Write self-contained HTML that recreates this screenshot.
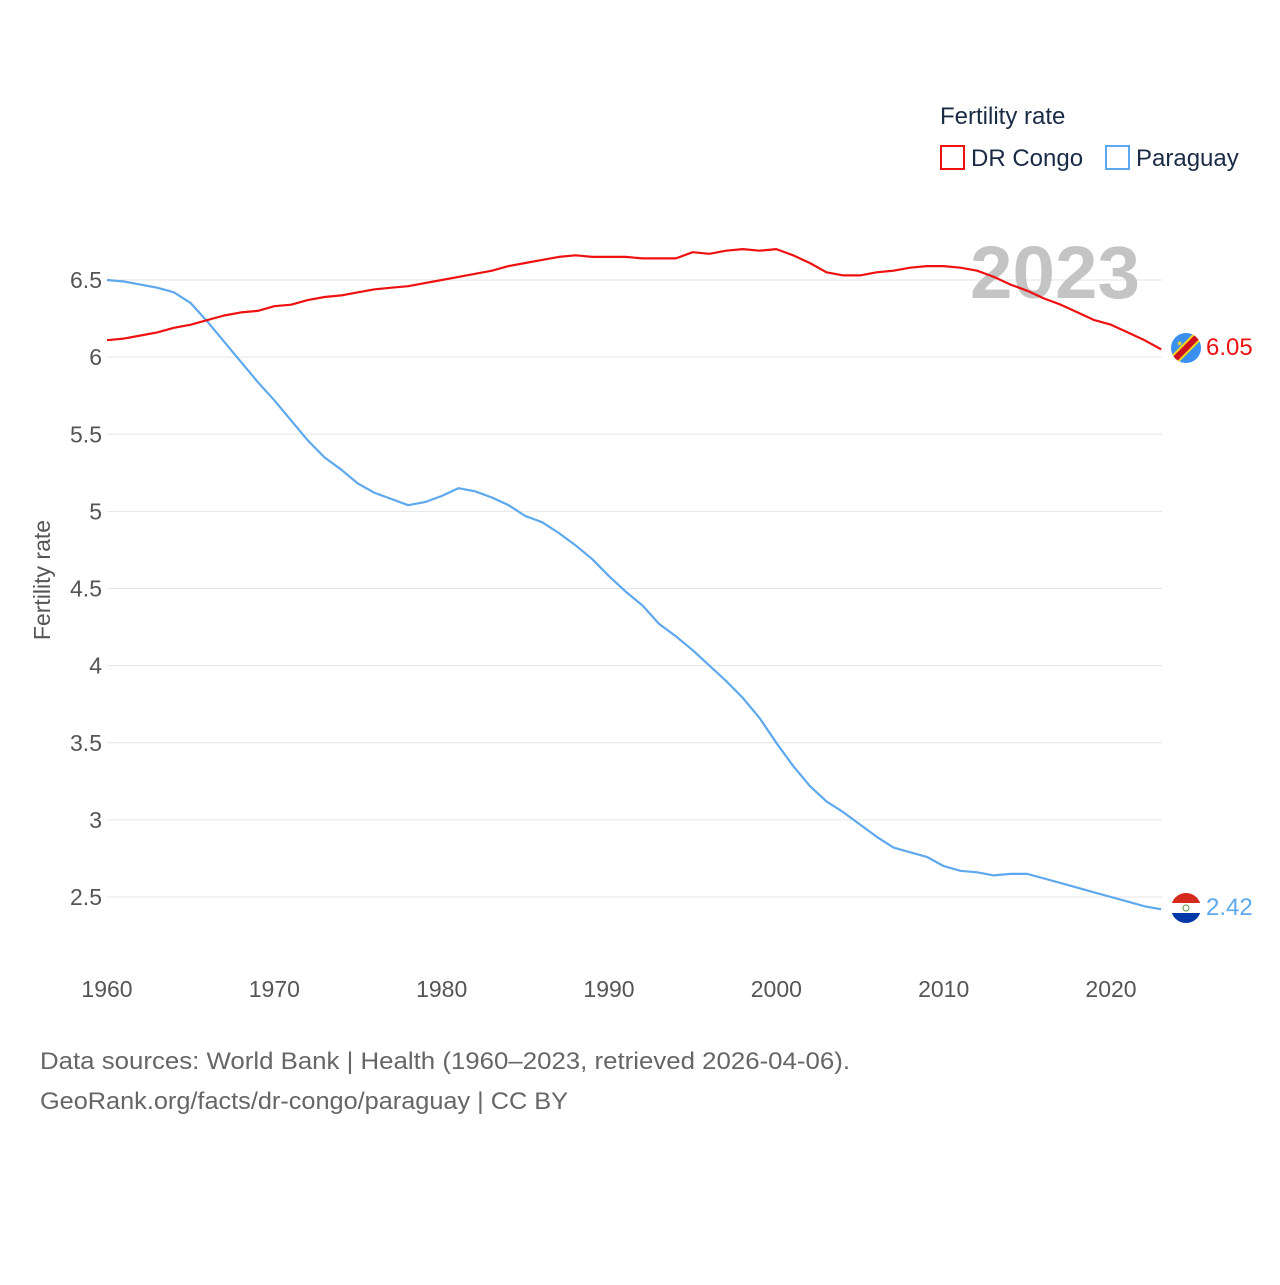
<!DOCTYPE html>
<html><head><meta charset="utf-8">
<style>
html,body{margin:0;padding:0;background:#fff;}
body{width:1280px;height:1280px;overflow:hidden;font-family:"Liberation Sans",sans-serif;}
text{font-family:"Liberation Sans",sans-serif;}
</style></head>
<body>
<svg id="chart" width="1280" height="1280" xmlns="http://www.w3.org/2000/svg">
  <g id="grid"></g>
  <g id="yticks"></g>
  <g id="xticks"></g>
  <text x="970" y="298" textLength="170" lengthAdjust="spacingAndGlyphs" font-size="74" font-weight="bold" fill="#c4c4c4">2023</text>
  <text transform="translate(50,580) rotate(-90)" text-anchor="middle" font-size="23" fill="#555">Fertility rate</text>
  <g id="lines"></g>
  <g>
    <text x="940" y="124" font-size="24" fill="#1a2b45">Fertility rate</text>
    <g>
      <rect x="941" y="146" width="23" height="23" fill="none" stroke="#ee1111" stroke-width="2"/>
      <text x="971" y="166" font-size="24" fill="#1a2b45">DR Congo</text>
    </g>
    <g>
      <rect x="1106" y="146" width="23" height="23" fill="none" stroke="#5ea8ee" stroke-width="2"/>
      <text x="1136" y="166" font-size="24" fill="#1a2b45">Paraguay</text>
    </g>
  </g>
  <g>
    <clipPath id="c1"><circle cx="1186" cy="348" r="15"/></clipPath>
    <g clip-path="url(#c1)">
      <rect x="1170" y="332" width="32" height="32" fill="#3a8ff0"/>
      <line x1="1168" y1="366" x2="1204" y2="330" stroke="#f7d618" stroke-width="10"/>
      <line x1="1168" y1="366" x2="1204" y2="330" stroke="#ce1021" stroke-width="6"/>
    </g>
    <text x="1176" y="346" font-size="8" fill="#f7d618">★</text>
  </g>
  <g>
    <clipPath id="c2"><circle cx="1186" cy="908" r="15"/></clipPath>
    <g clip-path="url(#c2)">
      <rect x="1170" y="892" width="32" height="11" fill="#d52b1e"/>
      <rect x="1170" y="903" width="32" height="10" fill="#fff"/>
      <rect x="1170" y="913" width="32" height="11" fill="#0038a8"/>
      <circle cx="1186" cy="908" r="3" fill="none" stroke="#5a9a3a" stroke-width="1"/>
    </g>
  </g>
  <text x="1206" y="355" font-size="24" fill="#ee1111">6.05</text>
  <text x="1206" y="915" font-size="24" fill="#5ea8ee">2.42</text>
  <text x="40" y="1069" textLength="810" lengthAdjust="spacingAndGlyphs" font-size="24" fill="#666">Data sources: World Bank | Health (1960–2023, retrieved 2026-04-06).</text>
  <text x="40" y="1109" textLength="528" lengthAdjust="spacingAndGlyphs" font-size="24" fill="#666">GeoRank.org/facts/dr-congo/paraguay | CC BY</text>
</svg>
<script>
const startYear = 1960;
const congo = [6.11,6.12,6.14,6.16,6.19,6.21,6.24,6.27,6.29,6.30,6.33,6.34,6.37,6.39,6.40,6.42,6.44,6.45,6.46,6.48,6.50,6.52,6.54,6.56,6.59,6.61,6.63,6.65,6.66,6.65,6.65,6.65,6.64,6.64,6.64,6.68,6.67,6.69,6.70,6.69,6.70,6.66,6.61,6.55,6.53,6.53,6.55,6.56,6.58,6.59,6.59,6.58,6.56,6.52,6.47,6.43,6.38,6.34,6.29,6.24,6.21,6.16,6.11,6.05];
const paraguay = [6.50,6.49,6.47,6.45,6.42,6.35,6.23,6.10,5.97,5.84,5.72,5.59,5.46,5.35,5.27,5.18,5.12,5.08,5.04,5.06,5.10,5.15,5.13,5.09,5.04,4.97,4.93,4.86,4.78,4.69,4.58,4.48,4.39,4.27,4.19,4.10,4.00,3.90,3.79,3.66,3.50,3.35,3.22,3.12,3.05,2.97,2.89,2.82,2.79,2.76,2.70,2.67,2.66,2.64,2.65,2.65,2.62,2.59,2.56,2.53,2.50,2.47,2.44,2.42];
const yTicks = [2.5,3,3.5,4,4.5,5,5.5,6,6.5];
const xTicks = [1960,1970,1980,1990,2000,2010,2020];

const NS = "http://www.w3.org/2000/svg";
const xs = yr => 107 + (yr - 1960) * (1004 / 60);
const ys = v => 280 + (6.5 - v) * 154.25;

const grid = document.getElementById('grid');
const yt = document.getElementById('yticks');
yTicks.forEach(v => {
  const l = document.createElementNS(NS, 'line');
  
  
  l.setAttribute('x1', 107); l.setAttribute('x2', 1162);
  l.setAttribute('y1', ys(v)); l.setAttribute('y2', ys(v));
  l.setAttribute('stroke', '#e6e6e6'); l.setAttribute('stroke-width', 1);
  grid.appendChild(l);
  const t = document.createElementNS(NS, 'text');
  
  
  t.setAttribute('x', 102); t.setAttribute('y', ys(v) + 8);
  t.setAttribute('text-anchor', 'end'); t.setAttribute('font-size', 23); t.setAttribute('fill', '#555');
  t.textContent = String(v);
  yt.appendChild(t);
});
const xt = document.getElementById('xticks');
xTicks.forEach(yr => {
  const t = document.createElementNS(NS, 'text');
  
  
  t.setAttribute('x', xs(yr)); t.setAttribute('y', 997);
  t.setAttribute('text-anchor', 'middle'); t.setAttribute('font-size', 23); t.setAttribute('fill', '#555');
  t.textContent = String(yr);
  xt.appendChild(t);
});
const lines = document.getElementById('lines');
function drawLine(arr, color, name) {
  const p = document.createElementNS(NS, 'polyline');
  
  
  p.setAttribute('points', arr.map((v, i) => xs(startYear + i).toFixed(1) + ',' + ys(v).toFixed(1)).join(' '));
  p.setAttribute('fill', 'none'); p.setAttribute('stroke', color); p.setAttribute('stroke-width', 2.2);
  p.setAttribute('stroke-linejoin', 'round');
  lines.appendChild(p);
}
drawLine(paraguay, '#5ea8ee', 'line-paraguay');
drawLine(congo, '#ee1111', 'line-dr-congo');
</script>
</body></html>
